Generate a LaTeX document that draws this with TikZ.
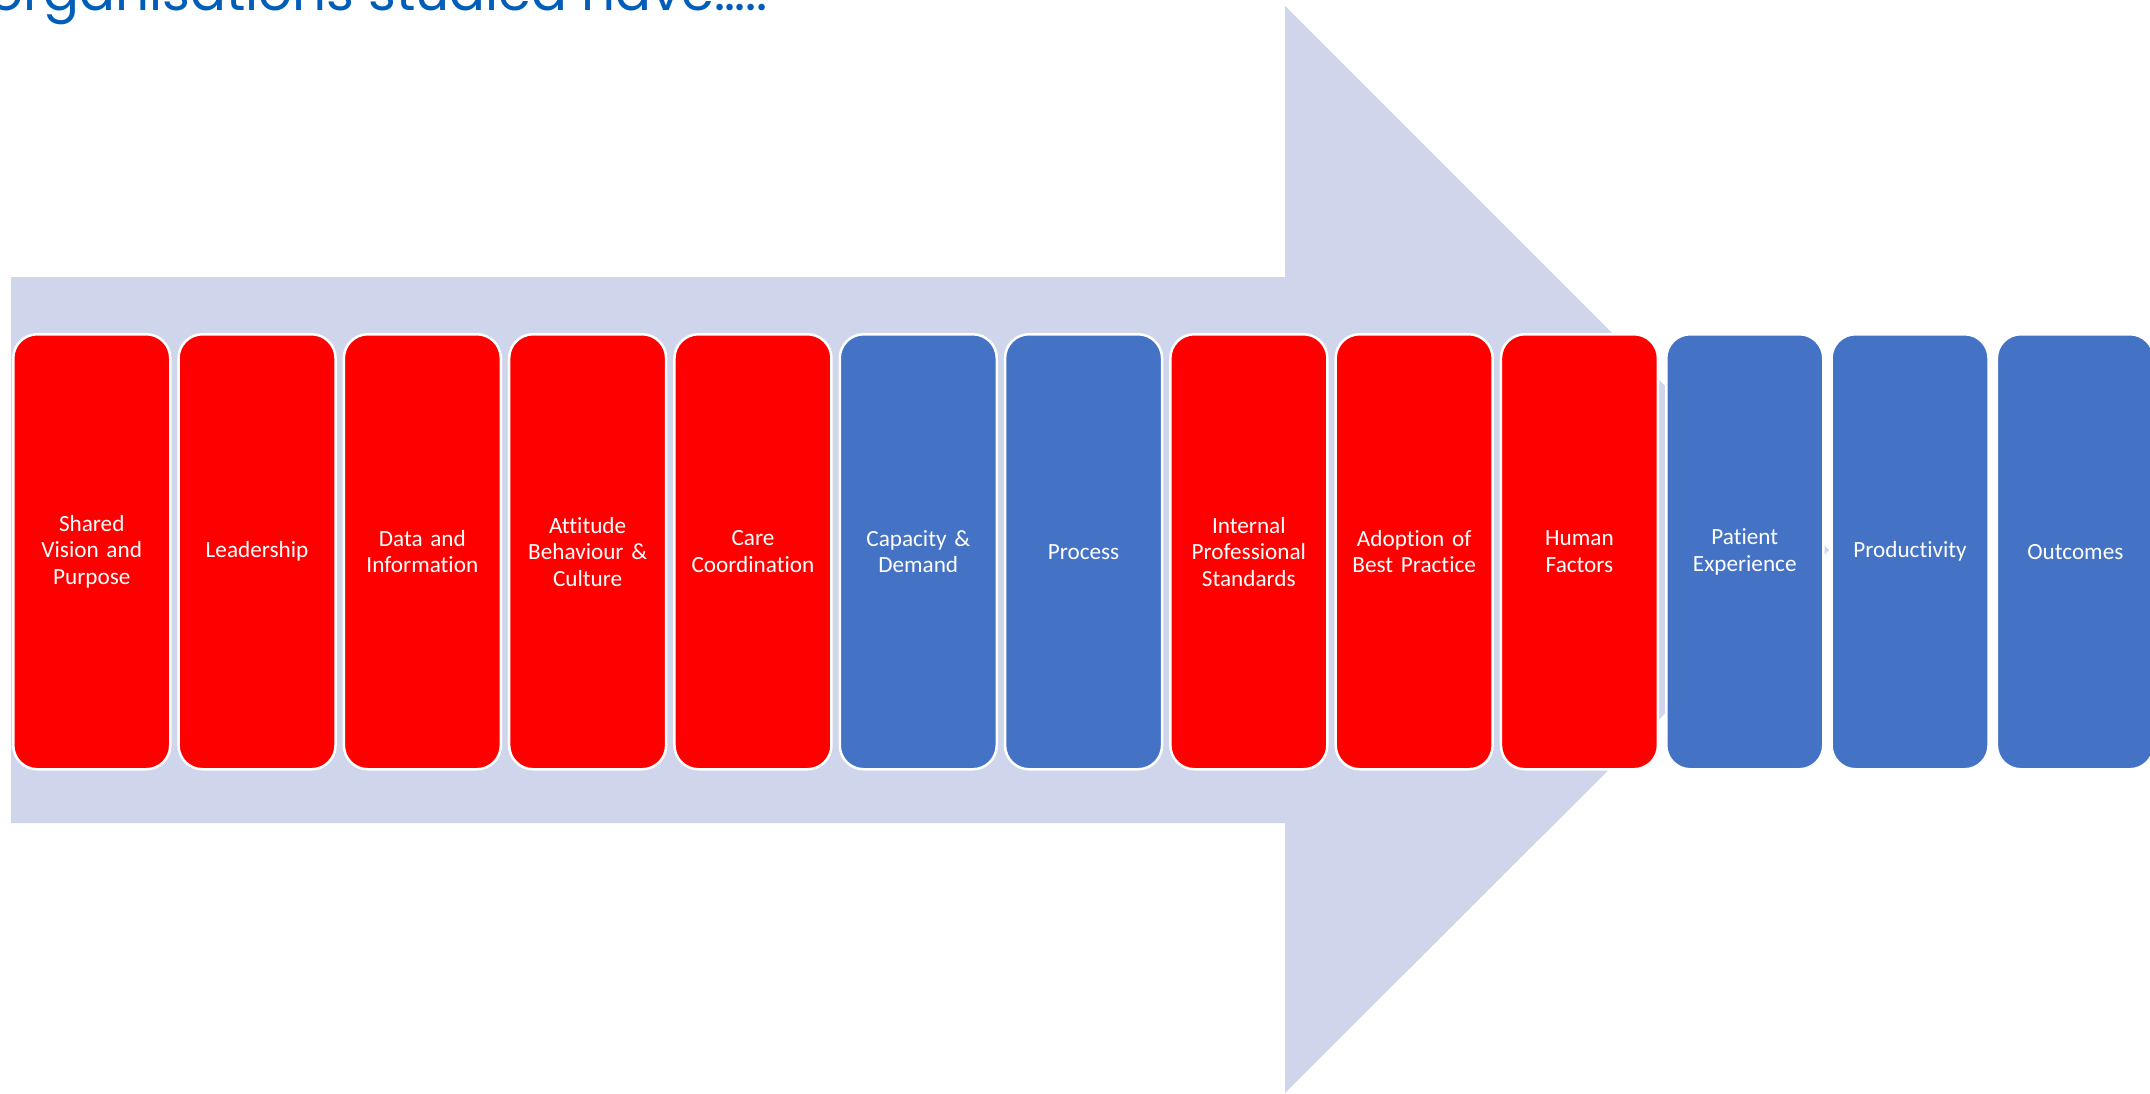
\documentclass[tikz,border=0pt]{standalone}
\usepackage{fontspec}
\setmainfont{Carlito}[Ligatures=NoCommon]
\newfontfamily\titlefont{Poppins}
\definecolor{nhsblue}{HTML}{005EB8}
\definecolor{arrowfill}{HTML}{CFD5EA}
\definecolor{stagered}{HTML}{FF0000}
\definecolor{stageblue}{HTML}{4472C4}

\tikzset{
  stagebox/.style={draw=white, line width=2.5pt, rounded corners=24pt,
    minimum width=157pt, minimum height=435pt, inner sep=0pt,
    text width=150pt, align=center, text=white, anchor=north west,
    font=\fontsize{23.2}{26.5}\selectfont},
}

\begin{document}
\begin{tikzpicture}[x=1pt,y=-1pt]
\useasboundingbox (0,0) rectangle (2150,1094);
\clip (0,0) rectangle (2150,1094);

% large background arrow
\fill[arrowfill] (11,277) -- (1285,277) -- (1285,6) -- (1829,550)
  -- (1285,1093) -- (1285,823) -- (11,823) -- cycle;

% heading, partly cut at the top edge
\node[anchor=base east, text=nhsblue, inner sep=0pt] (title) at (768,11)
  {\resizebox{778pt}{!}{\titlefont organisations studied have…..}};

% process stages
\foreach \i/\col/\txt in {
  0/stagered/{Shared\\Vision and\\Purpose},
  1/stagered/{Leadership},
  2/stagered/{Data and\\Information},
  3/stagered/{Attitude\\Behaviour \&\\Culture},
  4/stagered/{Care\\Coordination},
  5/stageblue/{Capacity \&\\Demand},
  6/stageblue/{Process},
  7/stagered/{Internal\\Professional\\Standards},
  8/stagered/{Adoption of\\Best Practice},
  9/stagered/{Human\\Factors},
  10/stageblue/{Patient\\Experience},
  11/stageblue/{Productivity},
  12/stageblue/{Outcomes}}
{
  \node[stagebox, fill=\col] (stage\i) at ({12+165.3*\i},333) {\txt};
}
\end{tikzpicture}
\end{document}
